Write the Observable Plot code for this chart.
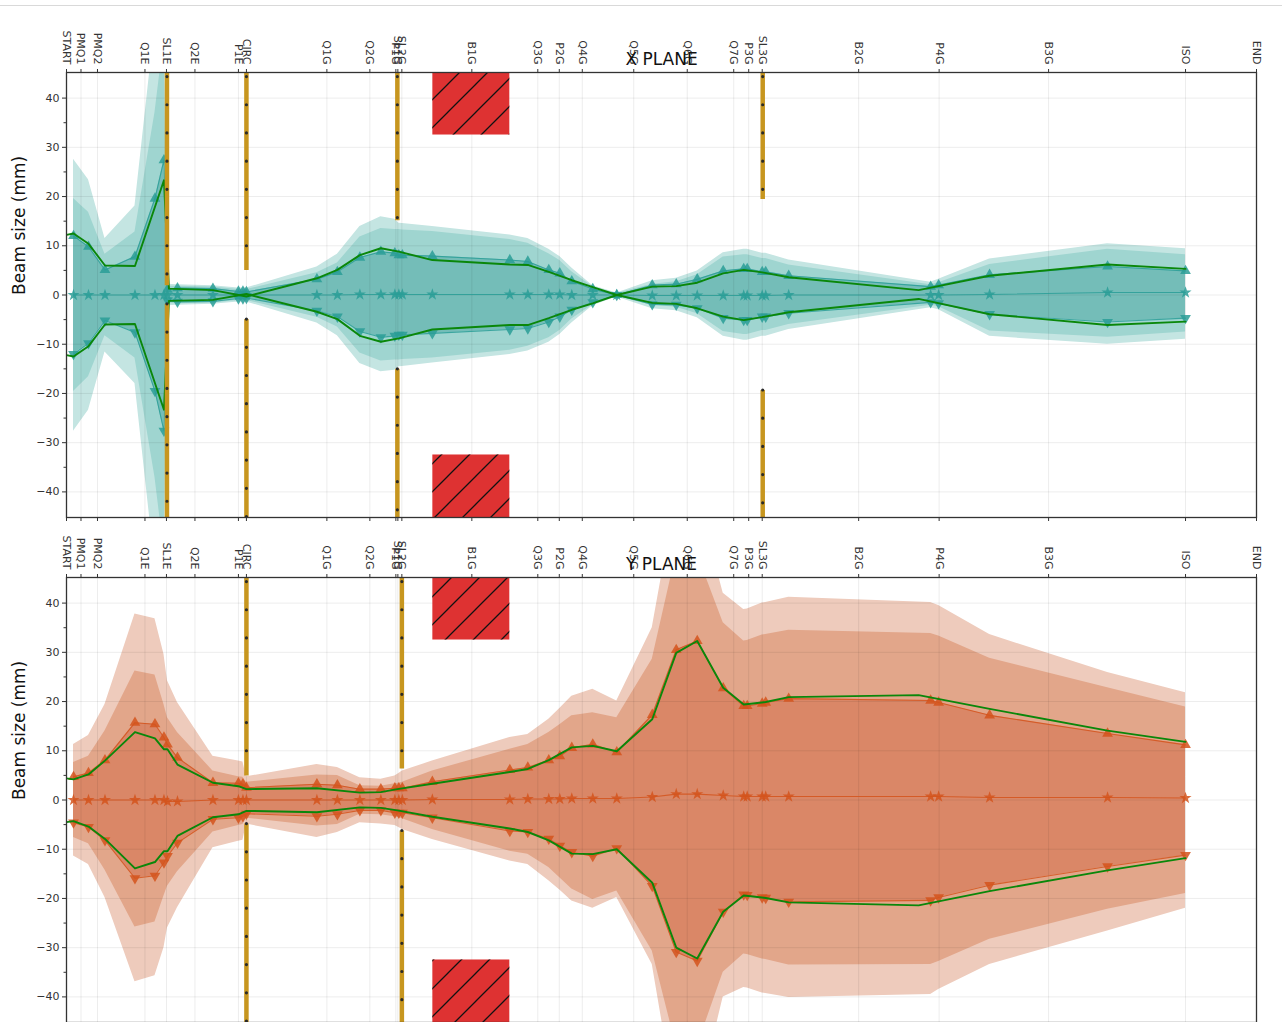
<!DOCTYPE html>
<html>
<head>
<meta charset="utf-8">
<script src="https://cdn.jsdelivr.net/npm/d3@7"></script>
<script src="https://cdn.jsdelivr.net/npm/@observablehq/plot@0.6"></script>
<style>
  html, body { margin: 0; padding: 0; background: #fff; }
  body { width: 1282px; height: 1022px; position: relative; overflow: hidden; font-family: "DejaVu Sans", sans-serif; }
  #topline { position: absolute; left: 0; top: 5px; width: 1282px; height: 1px; background: #d9d9d9; }
  #p1 { position: absolute; left: 0; top: 0; }
  #p2 { position: absolute; left: 0; top: 525px; }
</style>
</head>
<body>
<div id="topline"></div>
<svg width="0" height="0" style="position:absolute">
  <defs>
    <pattern id="hatch" patternUnits="userSpaceOnUse" width="28" height="28">
      <path d="M-7,7 L7,-7 M0,28 L28,0 M21,35 L35,21" stroke="#111" stroke-width="1.3"/>
    </pattern>
  </defs>
</svg>
<div id="p1"></div>
<div id="p2"></div>
<script>
// ---------- element (tick) positions along the line, metres ----------
const elementS = [0, 0.29, 0.62, 1.57, 2.00, 2.57, 3.44, 3.60, 5.21, 6.07, 6.59, 6.63, 6.71, 8.11, 9.43, 9.86, 10.32, 11.35, 12.42, 13.35, 13.65, 13.92, 15.85, 17.46, 19.65, 22.39, 23.81];
const elementNames = ["START", "PMQ1", "PMQ2", "Q1E", "SL1E", "Q2E", "P1E", "CIRC", "Q1G", "Q2G", "P1G", "SL1G", "SL2G", "B1G", "Q3G", "P2G", "Q4G", "Q5G", "Q6G", "Q7G", "P3G", "SL3G", "B2G", "P4G", "B3G", "ISO", "END"];
const lineLength = 23.81;

// ---------- sample positions of the tracked beam ----------
const sPos = [0.14, 0.44, 0.77, 1.37, 1.77, 1.95, 2.02, 2.22, 2.93, 3.44, 3.53, 3.60, 5.01, 5.42, 5.87, 6.29, 6.57, 6.65, 6.72, 7.32, 8.87, 9.23, 9.65, 9.87, 10.11, 10.53, 11.01, 11.72, 12.20, 12.62, 13.14, 13.55, 13.62, 13.92, 13.99, 14.45, 17.29, 17.45, 18.47, 20.83, 22.39];

// ---------- X plane ----------
const xOuterU = [27.6, 23.4, 11.5, 18.1, 55, 70, 2.2, 2.1, 1.9, 1.4, 1.4, 1.4, 5.7, 8.3, 13.9, 15.9, 15.4, 14.6, 14.5, 13.9, 12.2, 11.5, 9.3, 7.8, 5.5, 1.9, 0.4, 2.9, 3.4, 4.9, 8.6, 9.3, 9.3, 8.5, 8.5, 7.1, 2.6, 3.2, 7.3, 10.4, 9.4];
const xOuterL = [-27.7, -23.4, -11.6, -18.0, -55, -70, -2.2, -2.1, -1.9, -1.4, -1.4, -1.4, -5.7, -8.3, -13.9, -15.6, -15.3, -14.6, -14.5, -13.8, -12.1, -11.4, -9.6, -8.0, -5.7, -2.2, -0.4, -2.8, -3.2, -4.6, -8.4, -9.2, -9.2, -8.4, -8.4, -7.0, -2.6, -3.0, -8.4, -10.0, -9.0];
const xMidU = [19.6, 16.8, 8.3, 12.8, 37, 52, 1.8, 1.8, 1.6, 1.1, 1.1, 1.1, 4.5, 6.5, 11.8, 13.5, 13.3, 13.3, 13.2, 12.9, 11.3, 10.5, 8.4, 7.0, 4.7, 1.7, 0.3, 2.2, 2.7, 4.1, 7.7, 8.2, 8.2, 7.4, 7.4, 6.1, 2.1, 2.5, 6.2, 9.3, 8.2];
const xMidL = [-19.6, -16.6, -8.3, -12.8, -37, -52, -1.8, -1.8, -1.6, -1.1, -1.1, -1.1, -4.5, -6.5, -11.8, -13.4, -13.2, -13.2, -13.1, -12.8, -11.2, -10.4, -8.7, -7.2, -4.9, -2.0, -0.3, -2.1, -2.5, -3.8, -7.4, -8.0, -8.0, -7.2, -7.2, -6.0, -2.1, -2.4, -7.3, -8.6, -7.5];
const xEnvU = [12.0, 9.8, 5.1, 7.8, 19.6, 27.4, 1.1, 1.4, 1.3, 0.7, 0.7, 0.6, 3.2, 4.7, 7.6, 8.8, 8.5, 8.1, 8.1, 7.9, 7.1, 6.8, 5.1, 4.4, 2.8, 1.2, 0.0, 2.0, 2.2, 3.2, 4.9, 5.3, 5.3, 4.7, 4.7, 3.9, 1.7, 2.0, 4.1, 5.8, 4.9];
const xEnvL = [-12.0, -9.8, -5.2, -7.6, -19.5, -27.6, -1.1, -1.4, -1.3, -0.7, -0.7, -0.6, -3.2, -4.4, -7.4, -8.6, -8.3, -8.1, -8.1, -7.8, -7.0, -6.8, -5.5, -4.4, -3.0, -1.5, 0.0, -1.9, -2.0, -2.7, -4.7, -5.1, -5.1, -4.4, -4.4, -3.7, -1.5, -1.7, -3.9, -5.5, -4.7];
const xCentroid = [0, 0, 0, 0, 0, 0, 0, 0, 0, 0, 0, 0, 0, 0, 0.1, 0.1, 0.1, 0.1, 0.1, 0.1, 0.1, 0.1, 0.1, 0.1, 0, 0, 0, -0.1, -0.1, -0.1, -0.1, -0.1, -0.1, -0.1, -0.1, 0, 0, 0, 0.1, 0.5, 0.5];
const xRefS = [0, 0.14, 0.44, 0.77, 1.37, 1.95, 2.05, 2.93, 3.60, 5.01, 5.42, 5.87, 6.29, 6.65, 7.32, 8.87, 9.23, 9.65, 10.11, 10.53, 11.01, 11.72, 12.20, 12.62, 13.14, 13.55, 13.92, 14.45, 17.05, 18.47, 20.83, 22.39];
const xRefU = [12.2, 12.5, 10.4, 6.0, 5.9, 23.3, 1.3, 1.0, -0.3, 3.4, 5.1, 8.1, 9.5, 8.8, 7.1, 6.2, 6.1, 4.7, 3.0, 1.6, 0, 1.7, 1.8, 2.5, 4.4, 5.1, 4.6, 3.6, 1.0, 3.9, 6.2, 5.3];
const xRefL = [-12.2, -12.5, -10.4, -6.0, -5.9, -23.3, -1.2, -1.0, 0.2, -3.4, -4.9, -8.3, -9.5, -8.8, -7.0, -6.1, -6.1, -4.7, -3.0, -1.7, 0, -1.6, -1.8, -2.7, -4.4, -5.1, -4.5, -3.5, -0.8, -3.9, -6.1, -5.4];
const xSlitS = [2.01, 3.60, 6.62, 13.93];
const xSlitAperture = [1.9, 5.0, 15.1, 19.4];

// ---------- Y plane ----------
const yOuterU = [11.3, 13.1, 19.4, 37.8, 36.8, 29.6, 24.2, 19.8, 8.9, 7.9, 7.7, 4.7, 7.2, 6.6, 4.5, 4.2, 4.9, 5.4, 5.9, 7.9, 12.7, 13.3, 16.4, 18.6, 21.1, 22.5, 20.1, 35.0, 62, 62, 42.0, 38.7, 38.8, 40.0, 40.1, 41.2, 40.1, 39.5, 33.6, 25.9, 21.8];
const yOuterL = [-11.4, -13.1, -19.8, -36.9, -35.7, -30.0, -26.0, -21.9, -9.7, -8.4, -8.2, -4.9, -7.6, -6.6, -4.6, -4.9, -5.2, -5.6, -6.0, -8.0, -12.4, -13.1, -16.4, -18.3, -20.5, -22.0, -19.8, -33.4, -62, -62, -40.0, -38.1, -38.2, -39.2, -39.3, -40.1, -39.5, -38.5, -33.4, -26.6, -22.0];
const yMidU = [7.6, 8.9, 14.0, 26.2, 25.4, 19.4, 16.7, 13.7, 5.9, 4.7, 4.6, 3.6, 5.1, 5.0, 2.9, 2.8, 3.3, 3.4, 3.6, 5.9, 10.3, 11.3, 13.7, 15.3, 17.1, 17.7, 16.7, 28.6, 50, 50, 36.0, 32.3, 32.4, 33.5, 33.6, 34.5, 33.8, 33.3, 28.8, 22.8, 18.9];
const yMidL = [-7.6, -8.9, -14.2, -25.8, -24.8, -19.5, -17.5, -14.6, -6.5, -5.2, -5.0, -3.7, -5.3, -5.0, -2.9, -3.0, -3.4, -3.6, -3.8, -6.0, -10.4, -11.0, -13.7, -15.8, -18.1, -20.2, -18.5, -30.7, -50, -50, -35.0, -31.3, -31.4, -32.3, -32.4, -33.5, -33.4, -32.8, -28.3, -22.2, -19.0];
const yEnvU = [4.7, 5.5, 8.1, 15.7, 15.4, 12.7, 11.3, 8.6, 3.5, 3.4, 3.2, 2.5, 3.2, 3.0, 2.2, 2.2, 2.4, 2.4, 2.4, 3.7, 6.1, 6.6, 8.1, 8.9, 10.6, 11.3, 9.7, 17.3, 30.5, 32.3, 22.7, 19.1, 19.1, 19.6, 19.8, 20.6, 20.2, 19.8, 17.2, 13.5, 11.2];
const yEnvL = [-4.6, -5.5, -8.2, -15.9, -15.4, -12.7, -11.4, -8.7, -3.9, -3.6, -3.3, -2.8, -3.3, -2.9, -2.1, -2.1, -2.6, -2.6, -2.6, -3.6, -6.3, -6.5, -7.9, -9.3, -10.6, -11.4, -9.8, -17.5, -30.9, -32.7, -22.7, -19.2, -19.3, -19.8, -19.9, -20.7, -20.4, -19.8, -17.3, -13.5, -11.2];
const yCentroid = [0, 0, 0, 0, 0, 0, -0.3, -0.3, 0, 0, 0, 0, 0, 0, 0, 0, 0, 0, 0, 0.1, 0.1, 0.2, 0.2, 0.2, 0.3, 0.3, 0.3, 0.6, 1.2, 1.2, 0.9, 0.7, 0.7, 0.7, 0.7, 0.7, 0.7, 0.7, 0.5, 0.5, 0.4];
const yRefS = [0, 0.14, 0.44, 0.77, 1.37, 1.77, 1.95, 2.02, 2.22, 2.93, 3.44, 3.60, 5.01, 5.87, 6.29, 6.62, 7.32, 8.87, 9.23, 9.65, 10.11, 10.53, 11.01, 11.72, 12.20, 12.62, 13.14, 13.55, 13.99, 14.45, 17.05, 18.47, 20.83, 22.39];
const yRefU = [4.4, 4.2, 5.2, 8.0, 13.8, 12.5, 10.3, 10.3, 7.2, 3.5, 2.8, 2.2, 2.4, 1.5, 1.6, 2.2, 3.3, 5.7, 6.3, 8.1, 10.7, 11.0, 9.9, 16.4, 29.9, 32.3, 22.8, 19.4, 19.9, 20.9, 21.3, 18.5, 14.1, 11.8];
const yRefL = [-4.5, -4.3, -5.4, -7.9, -13.9, -12.6, -10.4, -10.4, -7.3, -3.5, -2.9, -2.2, -2.5, -1.5, -1.6, -2.1, -3.4, -5.8, -6.5, -8.2, -10.9, -11.0, -10.0, -16.8, -30.0, -32.2, -22.7, -19.4, -19.9, -20.8, -21.4, -18.5, -14.3, -11.8];
const ySlitS = [3.60, 6.71];
const ySlitAperture = [4.9, 6.3];

// ---------- dipole (B1G) vacuum chamber limits ----------
const dipoleS = [7.33, 8.87];
const dipoleHalfGap = 32.5;

const yTicks = [-40, -30, -20, -10, 0, 10, 20, 30, 40];
const yMinorTicks = [-35, -25, -15, -5, 5, 15, 25, 35];

function panel(cfg) {
  const rows = sPos.map((s, i) => ({
    s, outerU: cfg.outerU[i], outerL: cfg.outerL[i], midU: cfg.midU[i], midL: cfg.midL[i],
    envU: cfg.envU[i], envL: cfg.envL[i], c: cfg.centroid[i]
  }));
  const ref = cfg.refS.map((s, i) => ({s, u: cfg.refU[i], l: cfg.refL[i]}));
  const slits = cfg.slitS.map((s, i) => ({s, ap: cfg.slitAp[i]}));
  const dip = [{x1: dipoleS[0], x2: dipoleS[1], y1: dipoleHalfGap, y2: 50}, {x1: dipoleS[0], x2: dipoleS[1], y1: -50, y2: -dipoleHalfGap}];
  const nameOf = new Map(elementS.map((s, i) => [s, elementNames[i]]));
  const col = cfg.color;
  return Plot.plot({
    width: 1282, height: cfg.height,
    marginLeft: 66, marginRight: 26, marginTop: cfg.marginTop, marginBottom: 8,
    style: {fontFamily: "DejaVu Sans, sans-serif", background: "transparent", color: "#222"},
    x: {domain: [0, lineLength], label: null},
    y: {domain: [-45.2, 45.2], label: null},
    marks: [
      Plot.areaY(rows, {x: "s", y1: "outerL", y2: "outerU", fill: cfg.fills[0], clip: true}),
      Plot.areaY(rows, {x: "s", y1: "midL", y2: "midU", fill: cfg.fills[1], clip: true}),
      Plot.areaY(rows, {x: "s", y1: "envL", y2: "envU", fill: cfg.fills[2], clip: true}),
      Plot.gridY(yTicks, {stroke: "#000", strokeOpacity: 0.075}),
      Plot.gridX(elementS, {stroke: "#000", strokeOpacity: 0.075}),
      Plot.rect(dip, {x1: "x1", x2: "x2", y1: "y1", y2: "y2", fill: "#de3232", clip: true}),
      Plot.rect(dip, {x1: "x1", x2: "x2", y1: "y1", y2: "y2", fill: "url(#hatch)", clip: true}),
      Plot.line(rows, {x: "s", y: "envU", stroke: col, strokeWidth: 1.1, strokeOpacity: 0.85, clip: true}),
      Plot.line(rows, {x: "s", y: "envL", stroke: col, strokeWidth: 1.1, strokeOpacity: 0.85, clip: true}),
      Plot.line(rows, {x: "s", y: "c", stroke: col, strokeWidth: 1.1, strokeOpacity: 0.85}),
      Plot.dot(rows, {x: "s", y: "envU", symbol: "triangle", r: 4, fill: col, fillOpacity: 0.85, clip: true}),
      Plot.dot(rows, {x: "s", y: "envL", symbol: "triangle", rotate: 180, r: 4, fill: col, fillOpacity: 0.85, clip: true}),
      Plot.dot(rows, {x: "s", y: "c", symbol: "star", r: 3.8, fill: col, fillOpacity: 0.85}),
      Plot.line(ref, {x: "s", y: "u", stroke: "#0a870a", strokeWidth: 1.9, clip: true}),
      Plot.line(ref, {x: "s", y: "l", stroke: "#0a870a", strokeWidth: 1.9, clip: true}),
      Plot.ruleX(slits, {x: "s", y1: "ap", y2: 50, stroke: "#c7961f", strokeWidth: 4.5, clip: true}),
      Plot.ruleX(slits, {x: "s", y1: d => -d.ap, y2: -50, stroke: "#c7961f", strokeWidth: 4.5, clip: true}),
      Plot.ruleX(slits, {x: "s", y1: 50, y2: "ap", stroke: "#2a2a2a", strokeWidth: 3.2, strokeDasharray: "0 28.2", strokeLinecap: "round", clip: true}),
      Plot.ruleX(slits, {x: "s", y1: d => -d.ap, y2: -50, stroke: "#2a2a2a", strokeWidth: 3.2, strokeDasharray: "0 28.2", strokeLinecap: "round", clip: true}),
      Plot.frame({stroke: "#333", strokeWidth: 1.3}),
      Plot.axisY(yTicks, {tickSize: 4, tickPadding: 3, fontSize: 11, stroke: "#333", fill: "#333", label: null}),
      Plot.axisY(yMinorTicks, {tickSize: 2.5, tickFormat: () => "", stroke: "#333", label: null}),
      Plot.axisX(elementS, {anchor: "top", tickSize: 4, tickPadding: 4, tickRotate: 90, textAnchor: "end", lineAnchor: "middle", fontSize: 11, fill: "#333", stroke: "#333", tickFormat: d => nameOf.get(d), label: null}),
      Plot.axisX(elementS, {anchor: "bottom", tickSize: 4, tickFormat: () => "", stroke: "#333", label: null}),
      Plot.text([cfg.title], {frameAnchor: "top", dy: -13, fontSize: 17, lineAnchor: "middle", fill: "#111", text: d => d}),
      Plot.text(["Beam size (mm)"], {frameAnchor: "left", dx: -47, rotate: -90, fontSize: 17, fill: "#111", text: d => d})
    ]
  });
}

document.getElementById("p1").append(panel({
  title: "X PLANE", height: 525, marginTop: 72,
  outerU: xOuterU, outerL: xOuterL, midU: xMidU, midL: xMidL, envU: xEnvU, envL: xEnvL, centroid: xCentroid,
  refS: xRefS, refU: xRefU, refL: xRefL, slitS: xSlitS, slitAp: xSlitAperture,
  color: "#2a9d96", fills: ["#c4e5e2", "#9fd5d0", "#74bdb8"]
}));
document.getElementById("p2").append(panel({
  title: "Y PLANE", height: 505, marginTop: 52,
  outerU: yOuterU, outerL: yOuterL, midU: yMidU, midL: yMidL, envU: yEnvU, envL: yEnvL, centroid: yCentroid,
  refS: yRefS, refU: yRefU, refL: yRefL, slitS: ySlitS, slitAp: ySlitAperture,
  color: "#d4541c", fills: ["#eecbbc", "#e2a68a", "#da8767"]
}));
</script>
</body>
</html>
